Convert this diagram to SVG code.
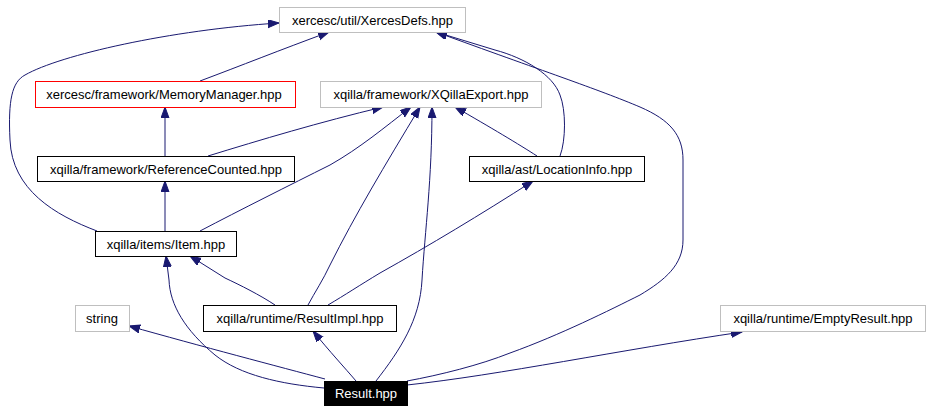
<svg xmlns="http://www.w3.org/2000/svg" width="931" height="411" viewBox="0 0 931 411">
<style>
.n rect{fill:#fff;stroke-width:1}
.g rect{stroke:#bfbfbf}
.b rect{stroke:#000}
.r rect{stroke:#ff0000}
.n text{font-family:"Liberation Sans",Arial,sans-serif;font-size:13px;text-anchor:middle;fill:#000}
#result rect{fill:#000;stroke:#000}
#result text{fill:#fff}
#edges path{fill:none;stroke:#191970;stroke-width:1;marker-end:url(#ah)}
</style>
<defs>
<marker id="ah" markerUnits="userSpaceOnUse" markerWidth="12" markerHeight="10" refX="11" refY="4" orient="auto">
<path d="M0,0 L11,4 L0,8 z" fill="#191970" stroke="#191970"/>
</marker>
</defs>
<rect width="931" height="411" fill="#fff"/>
<g id="edges">
<path d="M200,81 C240,66 280,50 329,32"/>
<path d="M97,231 C55,215 12,190 10,140 C8,100 12,82 25,75 C60,55 170,30 279,23"/>
<path d="M560,156 C566,140 566,110 560,95 C553,75 525,58 495,50 L436,32"/>
<path d="M407,381 C440,375 480,365 510,353 C560,335 610,310 640,295 C665,280 683,265 683,240 L683,160 C683,135 670,120 640,107 C600,90 540,70 436,32"/>
<path d="M165,156 L165,107"/>
<path d="M208,156 C260,140 320,122 383,107"/>
<path d="M200,231 C240,210 290,185 330,165 C360,148 385,127 411,107"/>
<path d="M308,305 C315,292 323,280 330,265 C355,215 385,165 420,107"/>
<path d="M376,381 C400,350 420,320 422,280 C425,230 432,180 432,107"/>
<path d="M537,156 C520,145 490,127 455,107"/>
<path d="M165,231 L165,181"/>
<path d="M275,305 C260,295 240,285 225,278 L190,256"/>
<path d="M324,388 C280,384 240,375 215,355 C185,330 170,305 169,280 L166,256"/>
<path d="M356,381 C345,368 330,352 313,331"/>
<path d="M325,379 C280,367 200,346 129,326"/>
<path d="M328,305 C345,295 360,285 380,273 C430,245 480,215 533,181"/>
<path d="M407,385 C500,375 620,350 742,332"/>
</g>
<g id="xercesdefs" class="n g"><rect x="279.5" y="7.5" width="186" height="25"/><text x="372.5" y="24.5">xercesc/util/XercesDefs.hpp</text></g>
<g id="memorymanager" class="n r"><rect x="35.5" y="81.5" width="260" height="26"/><text x="164" y="99">xercesc/framework/MemoryManager.hpp</text></g>
<g id="xqillaexport" class="n g"><rect x="320.5" y="81.5" width="221" height="26"/><text x="431" y="99">xqilla/framework/XQillaExport.hpp</text></g>
<g id="referencecounted" class="n b"><rect x="37.5" y="156.5" width="257" height="25"/><text x="166" y="173.5">xqilla/framework/ReferenceCounted.hpp</text></g>
<g id="locationinfo" class="n b"><rect x="469.5" y="156.5" width="175" height="25"/><text x="557" y="173.5">xqilla/ast/LocationInfo.hpp</text></g>
<g id="item" class="n b"><rect x="95.5" y="231.5" width="141" height="25"/><text x="166" y="248.5">xqilla/items/Item.hpp</text></g>
<g id="string" class="n g"><rect x="75.5" y="305.5" width="54" height="26"/><text x="102" y="323">string</text></g>
<g id="resultimpl" class="n b"><rect x="203.5" y="305.5" width="193" height="26"/><text x="300" y="323">xqilla/runtime/ResultImpl.hpp</text></g>
<g id="emptyresult" class="n g"><rect x="720.5" y="305.5" width="205" height="26"/><text x="823" y="323">xqilla/runtime/EmptyResult.hpp</text></g>
<g id="result" class="n"><rect x="324.5" y="381.5" width="83" height="24"/><text x="366" y="398">Result.hpp</text></g>
</svg>
